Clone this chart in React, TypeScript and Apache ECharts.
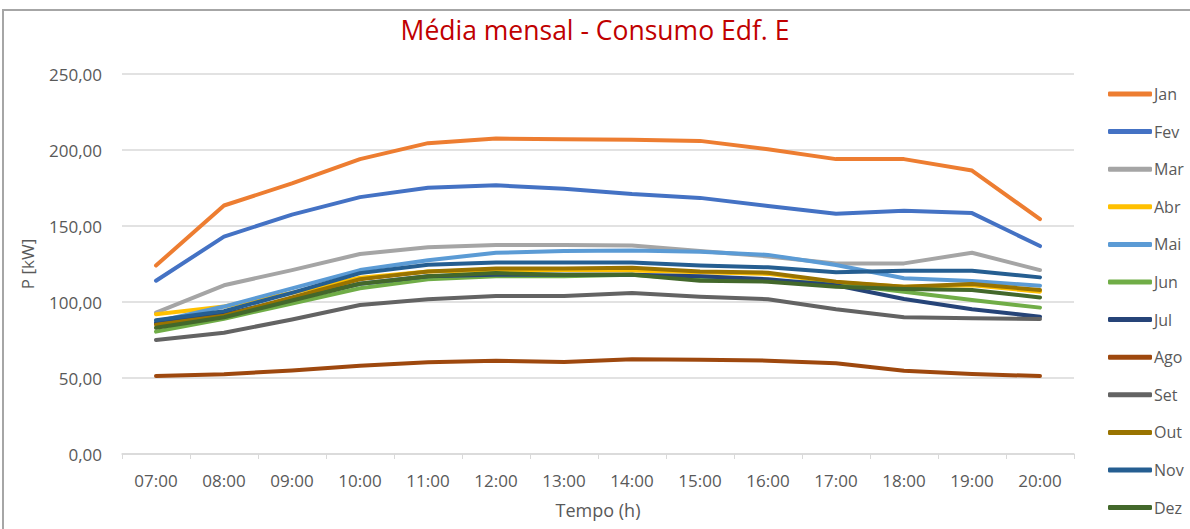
import React, { useEffect, useRef } from "react";
import * as echarts from "echarts";

const horas = ["07:00", "08:00", "09:00", "10:00", "11:00", "12:00", "13:00", "14:00", "15:00", "16:00", "17:00", "18:00", "19:00", "20:00"];

const jan = [124, 163.5, 178, 194, 204.5, 207.5, 207, 206.8, 206, 200.5, 194, 194, 186.5, 154.5];
const fev = [114, 143, 157.5, 169, 175.2, 176.8, 174.5, 171, 168.5, 163.2, 158, 160, 158.5, 136.8];
const mar = [93, 111, 121, 131.6, 136, 137.5, 137.5, 137.2, 133.5, 130, 125.4, 125.4, 132.4, 121];
const abr = [92, 97, 106, 116, 120, 121, 121, 120.8, 119.5, 118.5, 113, 110, 111, 106.8];
const mai = [87, 97, 109, 121, 127.5, 132.4, 133.5, 133.8, 133, 131, 124.3, 115.6, 113.8, 110.7];
const jun = [80.5, 89, 99, 109, 115, 117, 117, 118, 115, 114, 112, 106.8, 101.3, 96.3];
const jul = [86, 92, 102, 112, 117, 118, 118, 118, 117, 115, 111, 102, 95.2, 90.3];
const ago = [51.3, 52.4, 55, 58, 60.3, 61.4, 60.5, 62.3, 62, 61.4, 59.7, 54.8, 52.6, 51.3];
const set = [75, 79.8, 88.5, 98, 101.8, 104, 104, 106, 103.5, 101.8, 95.2, 89.9, 89.3, 88.8];
const out = [85, 91, 103, 115, 120, 122, 122, 122.5, 120, 119.3, 113.4, 110, 111.8, 107.9];
const nov = [88, 94, 106, 119, 124.5, 126, 126, 126, 124, 122.8, 119.5, 120.6, 120.6, 116.2];
const dez = [83, 90, 101, 112, 117, 119, 118, 118, 114, 113.4, 110, 108.6, 107.9, 103];

const meses = ["Jan", "Fev", "Mar", "Abr", "Mai", "Jun", "Jul", "Ago", "Set", "Out", "Nov", "Dez"];
const valores = [jan, fev, mar, abr, mai, jun, jul, ago, set, out, nov, dez];
const cores = ["#ED7D31", "#4472C4", "#A5A5A5", "#FFC000", "#5B9BD5", "#70AD47", "#264478", "#9E480E", "#636363", "#997300", "#255E91", "#43682B"];

const FONT = "'Open Sans', 'Noto Sans', sans-serif";

export default function App() {
  const ref = useRef<HTMLDivElement>(null);

  useEffect(() => {
    if (!ref.current) return;
    const chart = echarts.init(ref.current, null, { renderer: "svg" });
    chart.setOption({
      animation: false,
      backgroundColor: "#FFFFFF",
      title: {
        text: "Média mensal - Consumo Edf. E",
        left: "center",
        top: 11,
        textStyle: { color: "#C00000", fontSize: 26.5, fontWeight: "normal", fontFamily: FONT },
      },
      graphic: [
        {
          type: "rect",
          shape: { x: 3, y: 10, width: 1200, height: 600 },
          style: { fill: "none", stroke: "#A6A6A6", lineWidth: 2 },
          silent: true,
        },
      ],
      legend: {
        orient: "vertical",
        left: 1103,
        top: 81,
        itemWidth: 44,
        itemHeight: 5,
        itemGap: 21.6,
        icon: "roundRect",
        textStyle: { color: "#595959", fontSize: 16, fontFamily: FONT, padding: [0, 0, 0, -3] },
        data: meses,
      },
      grid: { left: 122, right: 116, top: 74, bottom: 75 },
      xAxis: {
        type: "category",
        data: horas,
        boundaryGap: true,
        name: "Tempo (h)",
        nameLocation: "middle",
        nameGap: 47,
        nameTextStyle: { color: "#595959", fontSize: 18, fontFamily: FONT },
        axisLine: { lineStyle: { color: "#D9D9D9", width: 1.5 } },
        axisTick: { show: true, length: 5, lineStyle: { color: "#D9D9D9" } },
        axisLabel: { color: "#595959", fontSize: 17, fontFamily: FONT, margin: 18 },
      },
      yAxis: {
        type: "value",
        min: 0,
        max: 250,
        interval: 50,
        name: "P [kW]",
        nameLocation: "middle",
        nameRotate: 90,
        nameGap: 86,
        nameTextStyle: { color: "#595959", fontSize: 17, fontFamily: FONT },
        axisLine: { show: false },
        axisTick: { show: false },
        splitLine: { lineStyle: { color: "#D9D9D9", width: 1.5 } },
        axisLabel: {
          color: "#595959",
          fontSize: 17,
          fontFamily: FONT,
          margin: 20,
          formatter: (v: number) => v.toFixed(2).replace(".", ","),
        },
      },
      series: meses.map((m, i) => ({
        name: m,
        type: "line",
        data: valores[i],
        color: cores[i],
        showSymbol: false,
        symbol: "none",
        lineStyle: { width: 4, color: cores[i], cap: "round", join: "round" },
      })),
    });
    return () => chart.dispose();
  }, []);

  return (
    <div
      ref={ref}
      style={{ position: "fixed", left: 0, top: 0, width: 1190, height: 529 }}
    />
  );
}
